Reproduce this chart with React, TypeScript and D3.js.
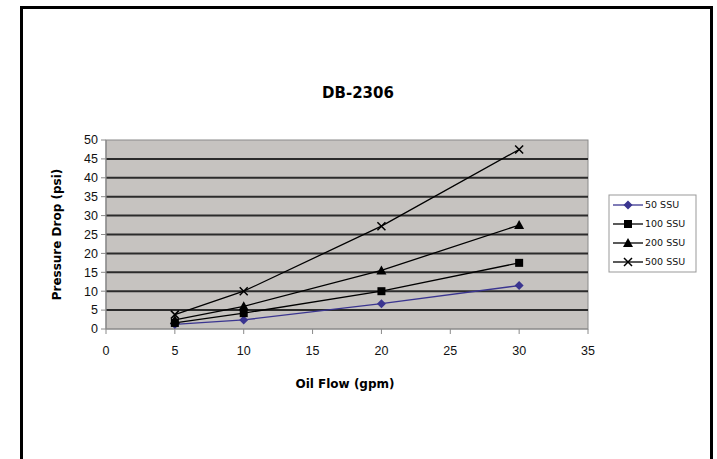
import React from "react";
import * as d3 from "d3";

const flow = [5, 10, 20, 30];
const seriesNames = ["50 SSU", "100 SSU", "200 SSU", "500 SSU"];
const ssu50 = [1.2, 2.4, 6.7, 11.5];
const ssu100 = [1.6, 4.2, 10, 17.5];
const ssu200 = [2.4, 6, 15.5, 27.5];
const ssu500 = [3.8, 10, 27.2, 47.5];
const xTicks = [0, 5, 10, 15, 20, 25, 30, 35];
const yTicks = [0, 5, 10, 15, 20, 25, 30, 35, 40, 45, 50];
const title = "DB-2306";
const xTitle = "Oil Flow (gpm)";
const yTitle = "Pressure Drop (psi)";

const W = 717, H = 459;
const plot = { l: 106, r: 588, t: 140, b: 329 };
const colors = ["#3a3590", "#000", "#000", "#000"];
const shapes = ["diamond", "square", "triangle", "x"];
const titleFont = "'Comic Sans MS', 'DejaVu Sans', sans-serif";

function Marker({ shape, x, y, color }: { shape: string; x: number; y: number; color: string }) {
  if (shape === "diamond") {
    const s = 4.5;
    return <path d={`M${x},${y - s}L${x + s},${y}L${x},${y + s}L${x - s},${y}Z`} fill={color} />;
  }
  if (shape === "square") {
    const s = 4;
    return <rect x={x - s} y={y - s} width={2 * s} height={2 * s} fill={color} />;
  }
  if (shape === "triangle") {
    const s = 5;
    return <path d={`M${x},${y - s}L${x + s},${y + s * 0.8}L${x - s},${y + s * 0.8}Z`} fill={color} />;
  }
  const s = 4;
  return (
    <path d={`M${x - s},${y - s}L${x + s},${y + s}M${x - s},${y + s}L${x + s},${y - s}`} stroke={color} strokeWidth={1.5} />
  );
}

export default function App() {
  const x = d3.scaleLinear().domain([0, 35]).range([plot.l, plot.r]);
  const y = d3.scaleLinear().domain([0, 50]).range([plot.b, plot.t]);
  const series = [ssu50, ssu100, ssu200, ssu500];
  const line = d3
    .line<[number, number]>()
    .x((d) => x(d[0]))
    .y((d) => y(d[1]));

  const legX = 609, legY = 195, legW = 87, legH = 77;

  return (
    <svg width={W} height={H} style={{ position: "absolute", left: 0, top: 0, background: "#fff" }}>
      <rect x={0} y={0} width={W} height={H} fill="#fff" />
      <path d={`M21.5,${H + 5}V7.5H711.5V${H + 5}`} fill="none" stroke="#000" strokeWidth={3} />
      <text x={358} y={98} textAnchor="middle" fontFamily={titleFont} fontWeight="bold" fontSize={15}>
        {title}
      </text>
      <rect x={plot.l} y={plot.t} width={plot.r - plot.l} height={plot.b - plot.t} fill="#c6c3c0" stroke="#8a8a8a" strokeWidth={1} />
      {yTicks.filter((t) => t > 0 && t < 50).map((t) => (
        <line key={t} x1={plot.l} x2={plot.r} y1={y(t)} y2={y(t)} stroke="#2b2b2b" strokeWidth={2} />
      ))}
      <line x1={plot.l} x2={plot.l} y1={plot.t} y2={plot.b} stroke="#8a8a8a" strokeWidth={1.2} />
      <line x1={plot.l} x2={plot.r} y1={plot.b} y2={plot.b} stroke="#8a8a8a" strokeWidth={1.2} />
      {yTicks.map((t) => (
        <g key={t}>
          <line x1={plot.l - 5} x2={plot.l} y1={y(t)} y2={y(t)} stroke="#8a8a8a" />
          <text x={plot.l - 8} y={y(t)} dy="0.35em" textAnchor="end" fontFamily="'Liberation Sans', Arial, sans-serif" fontSize={12.5} fill="#111">
            {t}
          </text>
        </g>
      ))}
      {xTicks.map((t) => (
        <g key={t}>
          <line x1={x(t)} x2={x(t)} y1={plot.b} y2={plot.b + 5} stroke="#8a8a8a" />
          <text x={x(t)} y={plot.b + 22} dy="0.35em" textAnchor="middle" fontFamily="'Liberation Sans', Arial, sans-serif" fontSize={12.5} fill="#111">
            {t}
          </text>
        </g>
      ))}
      <text x={345} y={388} textAnchor="middle" fontFamily={titleFont} fontWeight="bold" fontSize={12}>
        {xTitle}
      </text>
      <text transform={`translate(61,${(plot.t + plot.b) / 2}) rotate(-90)`} textAnchor="middle" fontFamily={titleFont} fontWeight="bold" fontSize={12}>
        {yTitle}
      </text>
      {series.map((vals, i) => {
        const pts = flow.map((f, j) => [f, vals[j]] as [number, number]);
        return (
          <g key={i}>
            <path d={line(pts) || ""} fill="none" stroke={colors[i]} strokeWidth={1.3} />
            {pts.map((p, j) => (
              <Marker key={j} shape={shapes[i]} x={x(p[0])} y={y(p[1])} color={colors[i]} />
            ))}
          </g>
        );
      })}
      <rect x={legX} y={legY} width={legW} height={legH} fill="#fff" stroke="#999" strokeWidth={1} />
      {seriesNames.map((n, i) => {
        const ly = legY + 10 + i * 19;
        return (
          <g key={n}>
            <line x1={legX + 4} x2={legX + 34} y1={ly} y2={ly} stroke={colors[i]} strokeWidth={1.3} />
            <Marker shape={shapes[i]} x={legX + 19} y={ly} color={colors[i]} />
            <text x={legX + 36} y={ly} dy="0.35em" fontFamily={titleFont} fontSize={9.5} fill="#111">
              {n}
            </text>
          </g>
        );
      })}
    </svg>
  );
}
